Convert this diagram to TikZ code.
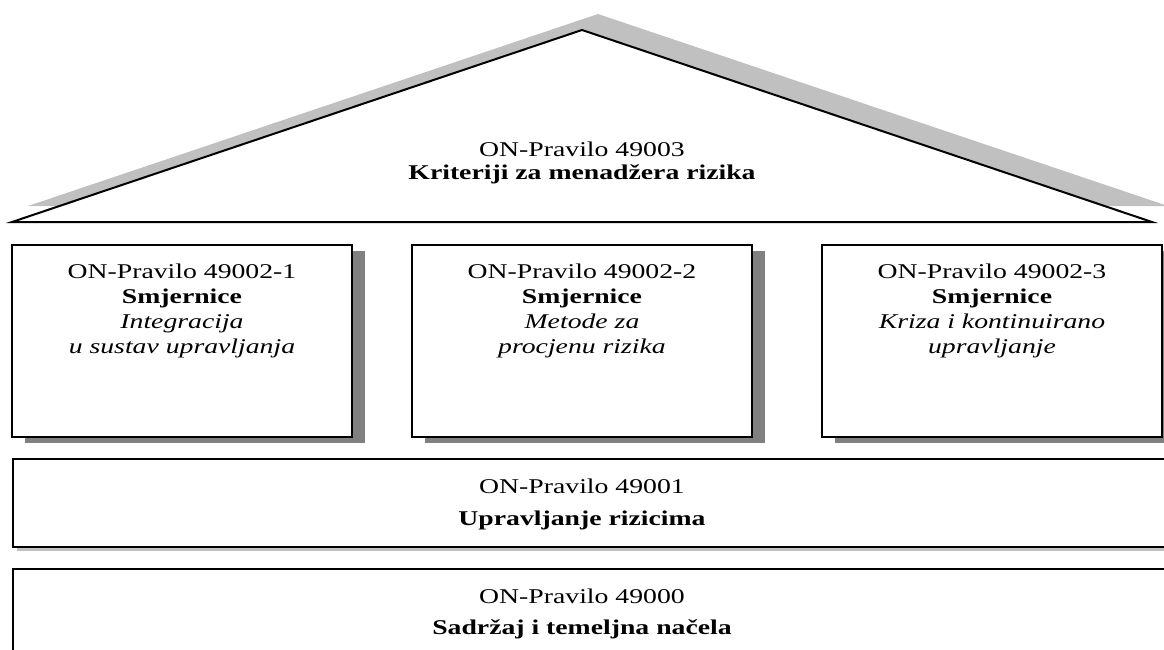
\documentclass[tikz,border=0pt]{standalone}
\usepackage{fontspec}
\setmainfont[FakeStretch=1.32]{Liberation Serif}
\definecolor{shadowdark}{HTML}{808080}
\definecolor{shadowlight}{HTML}{C0C0C0}
\tikzset{
  edge/.style={draw=black, line width=2pt},
  tbox/.style={edge, fill=white, rectangle, minimum width=340pt, minimum height=192pt, inner sep=0pt,
    preaction={fill=shadowdark, draw=none, transform canvas={xshift=13pt, yshift=-6pt}}},
  wide/.style={edge, fill=white, rectangle, anchor=north west, inner sep=0pt, minimum width=1200pt},
  txt/.style={align=center, inner sep=0pt, font=\fontsize{21}{25}\selectfont},
}
\begin{document}
\begin{tikzpicture}[x=1pt, y=-1pt]
\useasboundingbox (0,0) rectangle (1164,650);
\clip (0,0) rectangle (1164,650);
% roof
\fill[shadowlight] (28,206) -- (598,14) -- (1168,206) -- cycle;
\draw[edge, fill=white, line join=miter] (12,222) -- (582,30) -- (1152,222) -- cycle;
\node[txt] (troof) at (582,163) {ON-Pravilo 49003\\[-2pt]\textbf{Kriteriji za menadžera rizika}};
% three boxes
\node[tbox] (b1) at (182,341) {};
\node[tbox] (b2) at (582,341) {};
\node[tbox] (b3) at (992,341) {};
\node[txt] (t1) at (182,311) {ON-Pravilo 49002-1\\\textbf{Smjernice}\\\textit{Integracija}\\\textit{u sustav upravljanja}};
\node[txt] (t2) at (582,311) {ON-Pravilo 49002-2\\\textbf{Smjernice}\\\textit{Metode za}\\\textit{procjenu rizika}};
\node[txt] (t3) at (992,311) {ON-Pravilo 49002-3\\\textbf{Smjernice}\\\textit{Kriza i kontinuirano}\\\textit{upravljanje}};
% 49001
\fill[shadowlight] (17,463) rectangle (1220,551);
\node[wide, minimum height=88pt] (b4) at (12,458) {};
\node[txt] (t4) at (582,504) {ON-Pravilo 49001\\[7pt]\textbf{Upravljanje rizicima}};
% 49000
\node[wide, minimum height=120pt] (b5) at (12,568) {};
\node[txt] (t5) at (582,614) {ON-Pravilo 49000\\[6pt]\textbf{Sadržaj i temeljna načela}};
\end{tikzpicture}
\end{document}
